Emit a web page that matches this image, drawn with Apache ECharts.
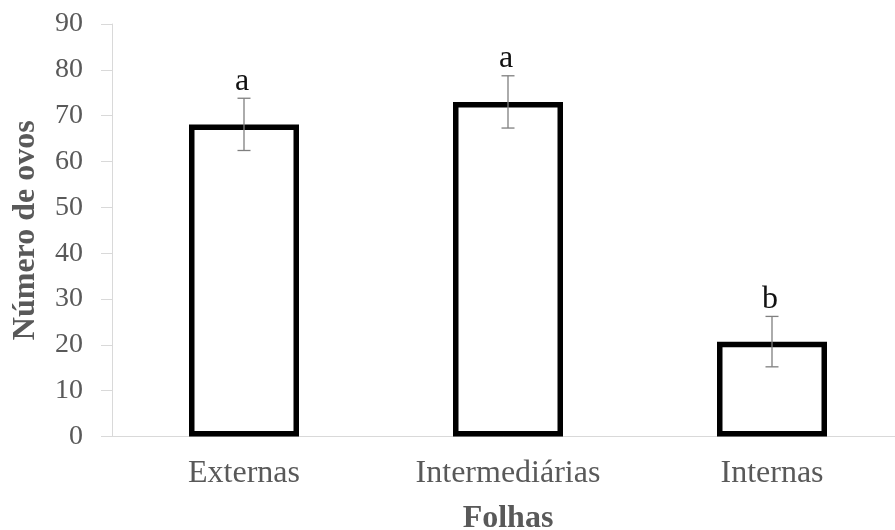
<!DOCTYPE html>
<html>
<head>
<meta charset="utf-8">
<script src="https://cdn.jsdelivr.net/npm/echarts@6/dist/echarts.min.js"></script>
<style>
  html, body { margin: 0; padding: 0; background: #fff; }
  #chart { width: 895px; height: 530px; }
</style>
</head>
<body>
<div id="chart"></div>
<script>
// data
const categories = ["Externas", "Intermediárias", "Internas"];
const eggs = [68.1, 73.0, 20.7];
const errors = [5.7, 5.7, 5.5];
const letters = ["a", "a", "b"];
const yTicks = { min: 0, max: 90, interval: 10 };

const serif = "'Liberation Serif', 'Times New Roman', serif";
const grey = "#595959";
const axisGrey = "#d9d9d9";

const chart = echarts.init(document.getElementById("chart"));

const option = {
  animation: false,
  backgroundColor: "#fff",
  grid: { left: 112, top: 24, width: 792, height: 412.5, containLabel: false, outerBoundsMode: "none" },
  xAxis: {
    type: "category",
    data: categories,
    name: "Folhas",
    nameLocation: "middle",
    nameGap: 66,
    nameTextStyle: { fontFamily: serif, fontSize: 32, fontWeight: "bold", color: grey },
    axisLine: { lineStyle: { color: axisGrey, width: 1 } },
    axisTick: { show: false },
    axisLabel: { fontFamily: serif, fontSize: 32, color: grey, margin: 21 },
  },
  yAxis: {
    type: "value",
    min: yTicks.min,
    max: yTicks.max,
    interval: yTicks.interval,
    name: "Número de ovos",
    nameLocation: "middle",
    nameGap: 70,
    nameTextStyle: { fontFamily: serif, fontSize: 32, fontWeight: "bold", color: grey, padding: [0, 0, 0, 0] },
    axisLine: { show: true, lineStyle: { color: axisGrey, width: 1 } },
    axisTick: { show: true, length: 11, lineStyle: { color: axisGrey } },
    axisLabel: { fontFamily: serif, fontSize: 28, color: grey, margin: 29 },
    splitLine: { show: false },
  },
  series: [
    {
      type: "bar",
      data: eggs,
      barWidth: 110,
      itemStyle: { color: "#fff", borderColor: "#000", borderWidth: 5.5 },
    },
    {
      type: "custom",
      z: 5,
      data: eggs.map((v, i) => [i, v - errors[i], v + errors[i]]),
      renderItem: (params, api) => {
        const lo = api.coord([api.value(0), api.value(1)]);
        const hi = api.coord([api.value(0), api.value(2)]);
        const x = lo[0];
        const cap = 6.5;
        const ls = { stroke: "#7f7f7f", lineWidth: 1.3 };
        return {
          type: "group",
          children: [
            { type: "line", shape: { x1: x, y1: lo[1], x2: x, y2: hi[1] }, style: ls },
            { type: "line", shape: { x1: x - cap, y1: lo[1], x2: x + cap, y2: lo[1] }, style: ls },
            { type: "line", shape: { x1: x - cap, y1: hi[1], x2: x + cap, y2: hi[1] }, style: ls },
            {
              type: "text",
              x: x - 2,
              y: hi[1] - 1,
              style: {
                text: letters[params.dataIndex],
                font: "32px " + serif,
                fill: "#111",
                align: "center",
                verticalAlign: "bottom",
              },
            },
          ],
        };
      },
    },
  ],
};

chart.setOption(option);
</script>
</body>
</html>
